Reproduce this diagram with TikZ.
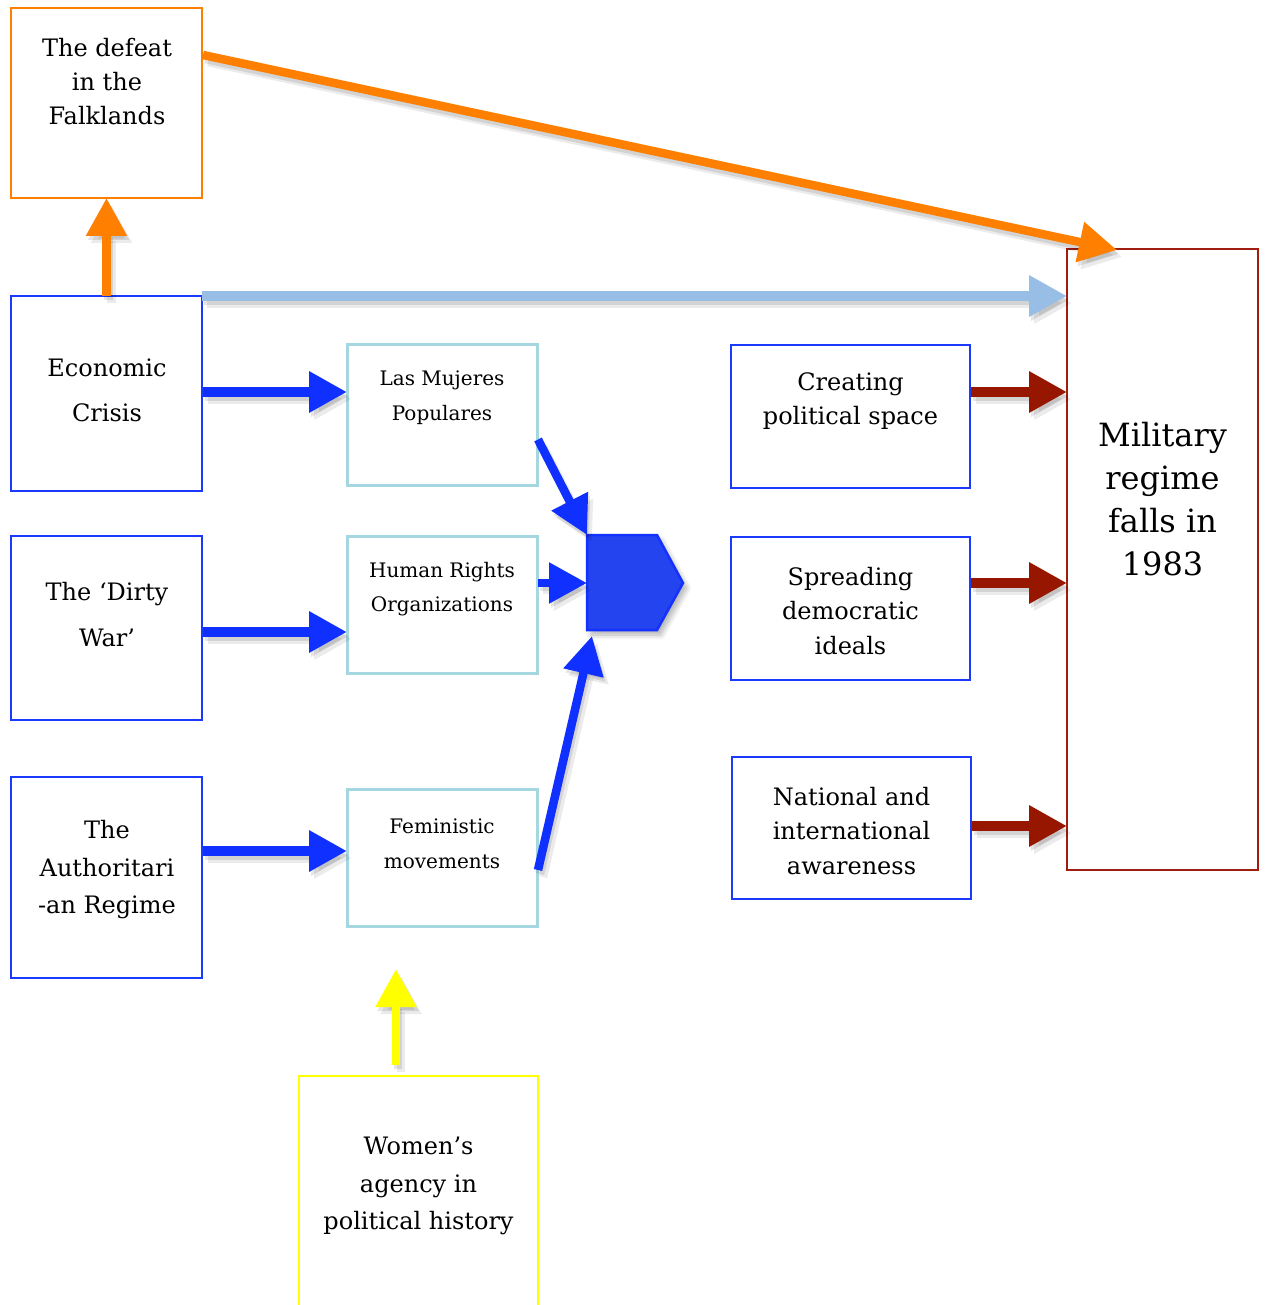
\documentclass[tikz,border=0pt]{standalone}
\usepackage{fontspec}
\setmainfont{DejaVu Serif}
\usetikzlibrary{arrows.meta,calc,shadows.blur}
\definecolor{orA}{RGB}{255,127,0}
\definecolor{blA}{RGB}{16,48,255}
\definecolor{blBox}{RGB}{26,58,255}
\definecolor{lbA}{RGB}{153,190,230}
\definecolor{lbBox}{RGB}{165,215,225}
\definecolor{redA}{RGB}{150,22,0}
\definecolor{redBox}{RGB}{160,30,15}
\definecolor{yelA}{RGB}{255,255,0}
\definecolor{pentFill}{RGB}{36,68,240}
\definecolor{pentLine}{RGB}{20,50,255}
\newcommand\arr[2]{\draw[#1,arrshadowA] #2;\draw[#1,arrshadowB] #2;\draw[#1] #2;}
\begin{document}
\begin{tikzpicture}[x=1pt,y=-1pt,
  box/.style={draw, line width=2.8pt, inner sep=0pt, outer sep=0pt, fill=white},
  bigtxt/.style={align=center, inner sep=0pt, font=\fontsize{24}{#1}\selectfont},
  smalltxt/.style={align=center, inner sep=0pt, font=\fontsize{20}{#1}\selectfont},
  fat/.style={line width=9.5pt, draw=#1, -{Triangle[length=38pt,width=39pt]}},
  arrshadowA/.style={draw=black, opacity=.10, transform canvas={shift={(2,4)}}},
  arrshadowB/.style={draw=black, opacity=.08, transform canvas={shift={(5,7)}}}
]
\useasboundingbox (0,0) rectangle (1264,1305);

% boxes
\node[box, draw=orA, minimum width=191pt, minimum height=190pt] (fk) at (106.5,103) {};
\node[box, draw=blBox, minimum width=191pt, minimum height=195pt] (ec) at (106.5,393.5) {};
\node[box, draw=blBox, minimum width=191pt, minimum height=184pt] (dw) at (106.5,628) {};
\node[box, draw=blBox, minimum width=191pt, minimum height=201pt] (ar) at (106.5,877.5) {};
\node[box, draw=lbBox, line width=3pt, minimum width=190pt, minimum height=141pt] (lm) at (442,414.5) {};
\node[box, draw=lbBox, line width=3pt, minimum width=190pt, minimum height=137pt] (hr) at (442,604.5) {};
\node[box, draw=lbBox, line width=3pt, minimum width=190pt, minimum height=137pt] (fm) at (442,857.5) {};
\node[box, draw=yelA, minimum width=239pt, minimum height=250pt] (wa) at (418.5,1201) {};
\node[box, draw=blBox, minimum width=239pt, minimum height=143pt] (cp) at (850.5,416.5) {};
\node[box, draw=blBox, minimum width=239pt, minimum height=143pt] (sd) at (850.5,608.5) {};
\node[box, draw=blBox, minimum width=239pt, minimum height=142pt] (ni) at (851.5,828) {};
\node[box, draw=redBox, minimum width=191pt, minimum height=621pt] (mil) at (1162.5,559.5) {};

% texts
\node[bigtxt=34pt] (fkT) at (107,82) {The defeat\\in the\\Falklands};
\node[bigtxt=45pt] (ecT) at (107,390) {Economic\\Crisis};
\node[bigtxt=46pt] (dwT) at (107,615) {The ‘Dirty\\War’};
\node[bigtxt=37.5pt] (arT) at (107,870) {The\\Authoritari\\-an Regime};
\node[smalltxt=35pt] (lmT) at (442,398) {Las Mujeres\\Populares};
\node[smalltxt=34pt] (hrT) at (442,589) {Human Rights\\Organizations};
\node[smalltxt=35pt] (fmT) at (442,844) {Feministic\\movements};
\node[bigtxt=37.5pt] (waT) at (418.5,1186) {Women’s\\agency in\\political history};
\node[bigtxt=34pt] (cpT) at (850.5,401) {Creating\\political space};
\node[bigtxt=34.5pt] (sdT) at (850.5,611) {Spreading\\democratic\\ideals};
\node[bigtxt=34.5pt] (niT) at (851.5,831) {National and\\international\\awareness};
\node[align=center, inner sep=0pt, font=\fontsize{32}{43}\selectfont] (milT) at (1162.5,499) {Military\\regime\\falls in\\1983};

% pentagon
\coordinate (pnw) at (587,535);
\coordinate (pne) at (657,535);
\coordinate (ptip) at (683,583);
\coordinate (pse) at (657,630);
\coordinate (psw) at (587,630);
\coordinate (pw) at (587,583);
\filldraw[fill=pentFill, draw=pentLine, line width=2.5pt,
  blur shadow={shadow xshift=4pt, shadow yshift=-5pt, shadow blur steps=8, shadow blur radius=5pt, shadow opacity=30}]
  (pnw) -- (pne) -- (ptip) -- (pse) -- (psw) -- cycle;

% connector helper coordinates
\coordinate (fkS) at ($(fk.north east)+(1,47)$);
\coordinate (milOr) at ($(mil.north west)+(50,1)$);
\coordinate (lmS) at ($(lm.east)+(1,25)$);
\coordinate (hrS) at ($(hr.east)+(1,-21.5)$);
\coordinate (fmS) at ($(fm.east)+(1,12.5)$);
\coordinate (pBot) at ($(psw)+(5,6)$);
\coordinate (waS) at ($(wa.north)+(-22.5,-11)$);
\coordinate (fmY) at ($(fm.south)+(-46,43)$);

% arrows
\arr{fat=orA, line width=8.5pt}{(ec.north) -- (fk.south)}
\arr{fat=orA, line width=8.5pt}{(fkS) -- (milOr)}
\arr{fat=lbA, line width=10pt}{(ec.north east) -- (ec.north east -| mil.west)}
\arr{fat=blA}{($(ec.east)+(1,-1.5)$) -- ($(ec.east -| lm.west)+(0,-1.5)$)}
\arr{fat=blA}{($(dw.east)+(1,4)$) -- ($(dw.east -| hr.west)+(0,4)$)}
\arr{fat=blA}{($(ar.east)+(1,-26.5)$) -- ($(ar.east -| fm.west)+(0,-26.5)$)}
\arr{fat=blA, line width=8.5pt}{(lmS) -- (pnw)}
\arr{fat=blA, line width=8.5pt}{(hrS) -- (pw)}
\arr{fat=blA, line width=8.5pt}{(fmS) -- (pBot)}
\arr{fat=redA}{($(cp.east)+(1,-24.5)$) -- ($(cp.east -| mil.west)+(0,-24.5)$)}
\arr{fat=redA}{($(sd.east)+(1,-25.5)$) -- ($(sd.east -| mil.west)+(0,-25.5)$)}
\arr{fat=redA}{($(ni.east)+(1,-2)$) -- ($(ni.east -| mil.west)+(0,-2)$)}
\arr{fat=yelA, line width=8.5pt}{(waS) -- (fmY)}
\end{tikzpicture}
\end{document}
